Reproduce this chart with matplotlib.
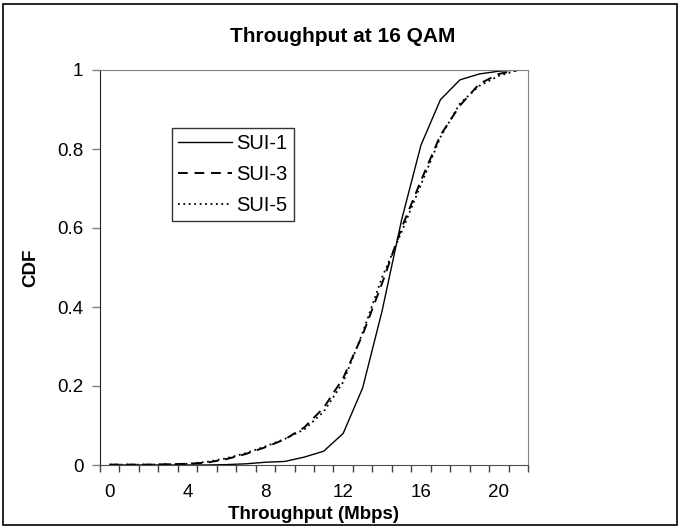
import matplotlib
matplotlib.use("Agg")
import matplotlib.pyplot as plt
from matplotlib.patches import Rectangle

plt.rcParams['font.family'] = ['Liberation Sans', 'DejaVu Sans']

# throughput bins (Mbps) and CDF per channel model
throughput = list(range(22))
sui1 = [0, 0, 0, 0, 0, 0, 0.001, 0.003, 0.007, 0.009, 0.02, 0.035,
        0.08, 0.195, 0.39, 0.62, 0.81, 0.925, 0.975, 0.99, 0.997, 1.0]
sui3 = [0.001, 0.001, 0.001, 0.002, 0.003, 0.006, 0.015, 0.028, 0.045, 0.065, 0.095, 0.145,
        0.22, 0.33, 0.46, 0.6, 0.72, 0.835, 0.91, 0.965, 0.99, 1.0]
sui5 = [0.001, 0.001, 0.001, 0.002, 0.003, 0.008, 0.017, 0.03, 0.047, 0.066, 0.09, 0.135,
        0.21, 0.335, 0.475, 0.59, 0.71, 0.83, 0.915, 0.96, 0.985, 1.0]
x_labels = [0, 4, 8, 12, 16, 20]
y_ticks = [0, 0.2, 0.4, 0.6, 0.8, 1]
y_labels = ['0', '0.2', '0.4', '0.6', '0.8', '1']

fig = plt.figure(figsize=(6.81, 5.29), dpi=100)
# outer chart border
fig.patches.append(Rectangle((3 / 681, 4 / 529), 674 / 681, 521 / 529, transform=fig.transFigure,
                             fill=False, edgecolor='black', linewidth=1.2))

ax = fig.add_axes([100 / 681, 1 - 465 / 529, 428 / 681, 395 / 529])
ax.plot(throughput, sui1, color='black', linewidth=1.0, label='SUI-1')
ax.plot(throughput, sui3, color='black', linewidth=1.4, dashes=(5, 3.5), label='SUI-3')
ax.plot(throughput, sui5, color='black', linewidth=1.3, dashes=(1, 2), label='SUI-5')

ax.set_xlim(-0.5, 21.5)
ax.set_ylim(0, 1)
ax.set_xticks(x_labels)
ax.set_xticklabels([str(v) for v in x_labels], fontsize=13.5)
ax.set_xticks([k + 0.5 for k in range(-1, 22)], minor=True)
ax.tick_params(axis='x', which='major', length=0, pad=14)
ax.tick_params(axis='x', which='minor', length=5, width=1, color='#404040', direction='out')
ax.set_yticks(y_ticks)
ax.set_yticklabels(y_labels, fontsize=13.5)
ax.tick_params(axis='y', length=6, width=1, color='#808080', direction='out', pad=6)

for side in ['top', 'right']:
    ax.spines[side].set_color('#808080')
ax.spines['left'].set_color('#202020')
ax.spines['bottom'].set_color('#505050')

ax.set_xlabel('Throughput (Mbps)', fontsize=13.5, fontweight='bold', labelpad=3)
ax.set_ylabel('CDF', fontsize=13.5, fontweight='bold', labelpad=13)
fig.text(343 / 681, 1 - 37 / 529, 'Throughput at 16 QAM', ha='center', va='center',
         fontsize=15, fontweight='bold')

leg = ax.legend(loc='upper left', bbox_to_anchor=((172 - 100) / 428, (465 - 128) / 395),
                fontsize=14.5, frameon=True, fancybox=False, handlelength=2.7,
                handletextpad=0.2, borderpad=0.3, labelspacing=0.6, borderaxespad=0)
leg.get_frame().set_edgecolor('black')
leg.get_frame().set_linewidth(1.0)

fig.savefig('out.png', dpi=100)
